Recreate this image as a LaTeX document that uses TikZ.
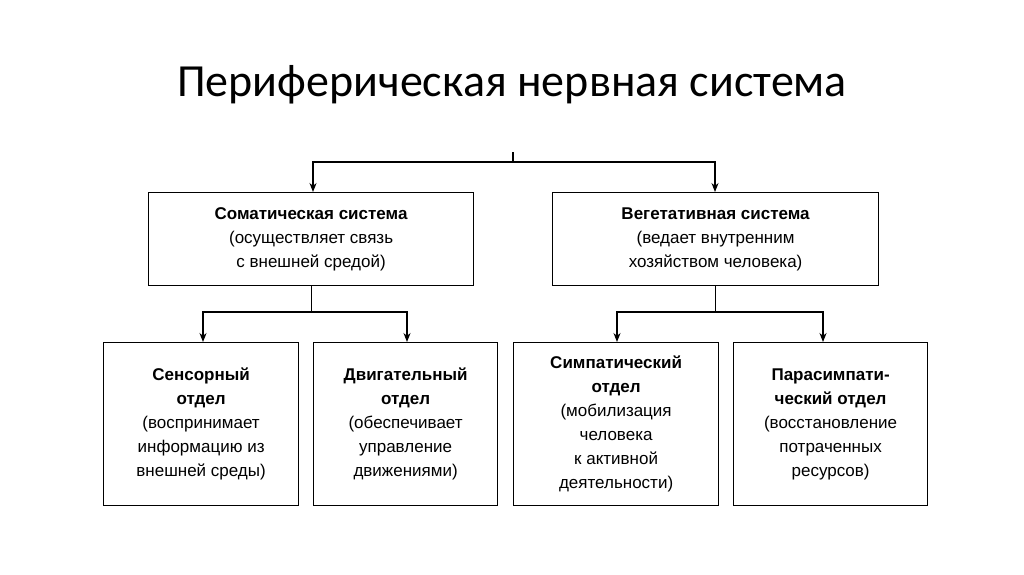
\documentclass[tikz,border=0pt]{standalone}
\usepackage{fontspec}
\setmainfont{Liberation Sans}
\newfontfamily\titlefont{Carlito}
\usetikzlibrary{arrows.meta}
\begin{document}
\begin{tikzpicture}[x=1pt,y=-1pt,
  box/.style={draw,line width=1.2pt,anchor=north west,align=center,font=\fontsize{17}{24}\selectfont,inner sep=0pt},
  con/.style={line width=1.2pt},
  arr/.style={line width=1.2pt,-{Stealth[length=9pt,width=7pt]}}]
\useasboundingbox (0,0) rectangle (1024,574);
\node (title) at (512,85) {\titlefont\fontsize{46}{48}\selectfont Периферическая нервная система};
\node[box,minimum width=325pt,minimum height=93pt] (som) at (148,192) {\textbf{Соматическая система}\\(осуществляет связь\\с внешней средой)};
\node[box,minimum width=326pt,minimum height=93pt] (veg) at (552,192) {\textbf{Вегетативная система}\\(ведает внутренним\\хозяйством человека)};
\node[box,minimum width=195pt,minimum height=163pt] (sen) at (103,342) {\textbf{Сенсорный}\\\textbf{отдел}\\(воспринимает\\информацию из\\внешней среды)};
\node[box,minimum width=184pt,minimum height=163pt] (dvi) at (313,342) {\textbf{Двигательный}\\\textbf{отдел}\\(обеспечивает\\управление\\движениями)};
\node[box,minimum width=205pt,minimum height=163pt] (sim) at (513,342) {\textbf{Симпатический}\\\textbf{отдел}\\(мобилизация\\человека\\к активной\\деятельности)};
\node[box,minimum width=194pt,minimum height=163pt] (par) at (733,342) {\textbf{Парасимпати-}\\\textbf{ческий отдел}\\(восстановление\\потраченных\\ресурсов)};
\coordinate (top) at (513,152);
\coordinate (tj) at (513,162);
\draw[con] (top) -- (tj);
\draw[arr] (tj) -| (som.north -| 313,0);
\draw[arr] (tj) -| (veg.north -| 715,0);
\coordinate (sj) at (som.south |- 0,312);
\coordinate (vj) at (veg.south |- 0,312);
\draw[con] (som.south) -- (sj);
\draw[con] (veg.south) -- (vj);
\draw[arr] (sj) -| (sen.north -| 203,0);
\draw[arr] (sj) -| (dvi.north -| 407,0);
\draw[arr] (vj) -| (sim.north -| 617,0);
\draw[arr] (vj) -| (par.north -| 823,0);
\end{tikzpicture}
\end{document}
